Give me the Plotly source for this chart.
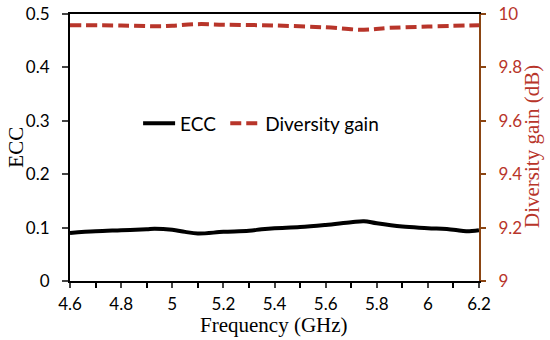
import plotly.graph_objects as go

freq_ecc = [4.6, 4.7, 4.8, 4.9, 4.93, 5.0, 5.05, 5.1, 5.2, 5.3, 5.35, 5.4, 5.5, 5.6, 5.7, 5.75, 5.8, 5.9, 6.0, 6.1, 6.15, 6.2]
ecc = [0.090, 0.093, 0.095, 0.097, 0.098, 0.096, 0.092, 0.089, 0.092, 0.094, 0.097, 0.099, 0.101, 0.105, 0.110, 0.112, 0.108, 0.102, 0.099, 0.096, 0.093, 0.095]

freq_dg = [4.6, 4.8, 4.95, 5.0, 5.1, 5.2, 5.4, 5.6, 5.75, 5.85, 6.0, 6.2]
dg = [9.958, 9.957, 9.954, 9.956, 9.962, 9.960, 9.957, 9.950, 9.941, 9.948, 9.953, 9.958]

RED = "#B8352A"
BROWN = "#8B4513"
SERIF = "Liberation Serif"
SANS = "Lato"

fig = go.Figure()
fig.add_trace(go.Scatter(x=freq_ecc, y=ecc, name="ECC", mode="lines", legend="legend",
                         line=dict(color="black", width=4, shape="spline")))
fig.add_trace(go.Scatter(x=freq_dg, y=dg, name="Diversity gain", mode="lines", yaxis="y2",
                         legend="legend2",
                         line=dict(color=RED, width=4, dash="11px,5px", shape="spline")))

tickfont = dict(family=SANS, size=17, color="black")
legfont = dict(family=SANS, size=19, color="black")
fig.update_layout(
    width=550, height=340,
    margin=dict(l=70, r=71, t=14, b=59, autoexpand=False),
    plot_bgcolor="white", paper_bgcolor="white",
    showlegend=True,
    legend=dict(x=0.1665, y=0.59, xanchor="left", yanchor="middle", font=legfont,
                bgcolor="rgba(0,0,0,0)", itemwidth=32),
    legend2=dict(x=0.3796, y=0.59, xanchor="left", yanchor="middle", font=legfont,
                 bgcolor="rgba(0,0,0,0)", itemwidth=30),
    xaxis=dict(range=[4.6, 6.2], dtick=0.2, tick0=4.6, ticks="outside", ticklen=5,
               tickwidth=2, showgrid=False, zeroline=False, showline=True, linewidth=2,
               linecolor="black", mirror=True, tickfont=tickfont, automargin=False,
               ticklabelstandoff=2,
               minor=dict(dtick=0.1, ticks="outside", ticklen=5, tickwidth=2, tickcolor="black")),
    yaxis=dict(range=[0, 0.5], dtick=0.1, ticks="outside", ticklen=6, tickwidth=2,
               showgrid=False, zeroline=False, showline=True, linewidth=2, linecolor="black",
               tickfont=tickfont, ticklabelstandoff=9, automargin=False),
    yaxis2=dict(range=[9, 10], dtick=0.2, overlaying="y", side="right", ticks="outside",
                ticklen=5, tickwidth=2, tickcolor=BROWN, showgrid=False, zeroline=False,
                showline=True, linewidth=2, linecolor=BROWN, ticklabelstandoff=9,
                automargin=False, tickfont=dict(family=SANS, size=17, color=RED)),
    annotations=[
        dict(text="Frequency (GHz)", xref="paper", yref="paper", x=0.499, y=-0.165,
             xanchor="center", yanchor="middle", showarrow=False,
             font=dict(family=SERIF, size=21, color="black")),
        dict(text="ECC", xref="paper", yref="paper", x=-0.134, y=0.5, textangle=-90,
             xanchor="center", yanchor="middle", showarrow=False,
             font=dict(family=SERIF, size=21, color="black")),
        dict(text="Diversity gain (dB)", xref="paper", yref="paper", x=1.1296, y=0.502,
             textangle=-90, xanchor="center", yanchor="middle", showarrow=False,
             font=dict(family=SERIF, size=21, color=RED)),
    ],
)

fig.write_html("out.html", config={"displayModeBar": False},
               post_script="document.body.style.margin='0';document.body.style.overflow='hidden';")
